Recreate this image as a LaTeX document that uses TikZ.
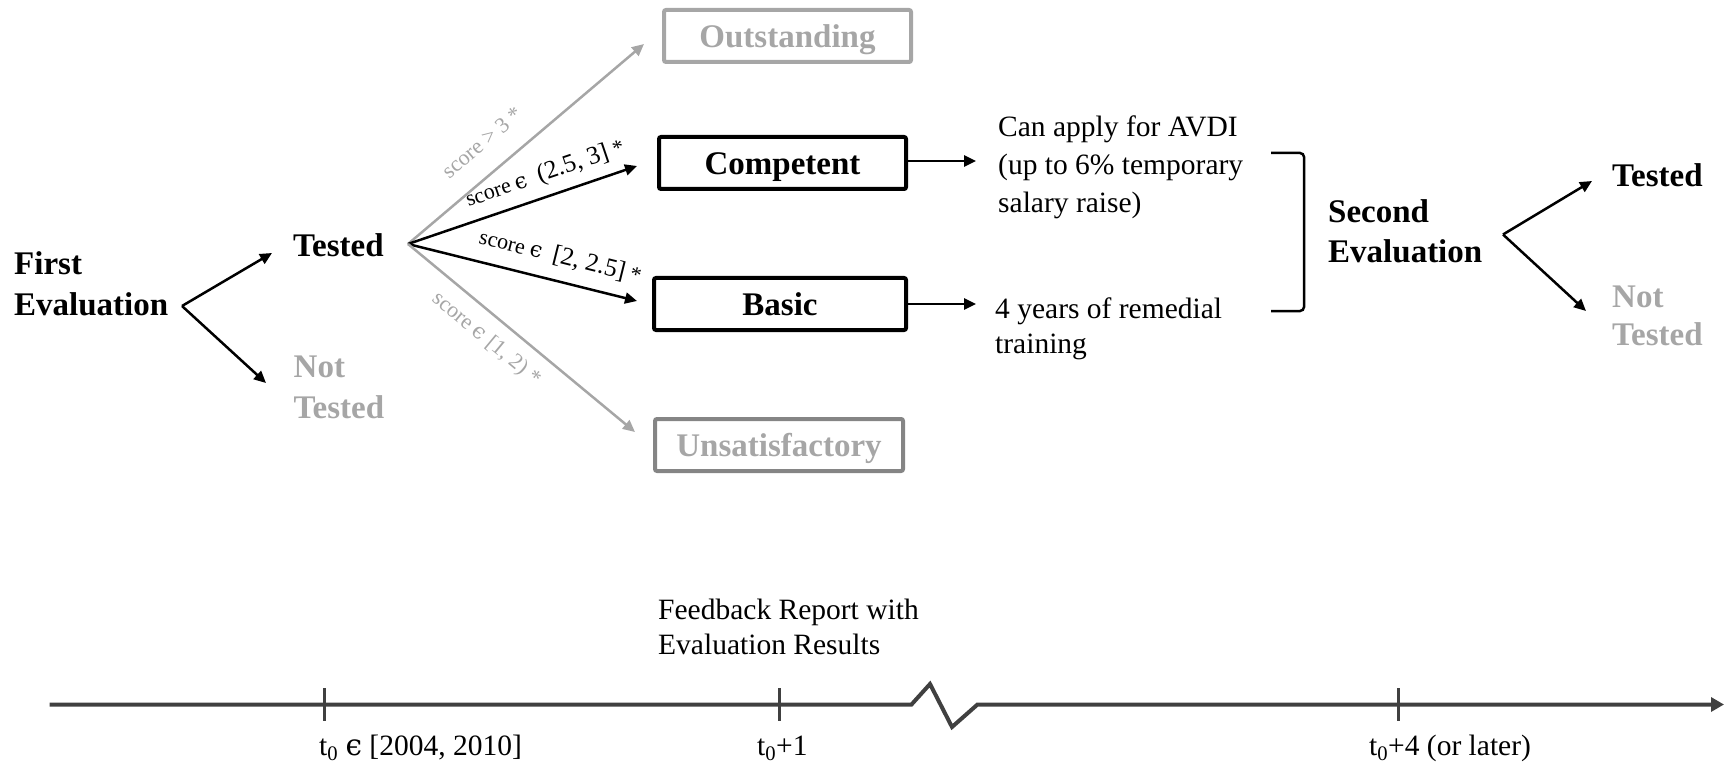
\documentclass[tikz,border=0pt]{standalone}
\usepackage{fontspec}
\setmainfont{Liberation Serif}
\newfontfamily\dvs{DejaVu Serif}
\usetikzlibrary{arrows.meta}
\definecolor{gtxt}{HTML}{A6A6A6}
\definecolor{gline}{HTML}{A6A6A6}
\definecolor{gbox}{HTML}{858585}
\definecolor{tline}{HTML}{404040}
\newcommand{\lunate}{{\dvs ϵ}}
\newcommand{\bigpart}[1]{{\fontsize{25.5}{26}\selectfont #1}}
\begin{document}
\begin{tikzpicture}[x=1pt,y=-1pt,
  boldtxt/.style={font=\fontsize{33}{40}\selectfont\bfseries, inner sep=0pt, align=left},
  regtxt/.style={font=\fontsize{29.5}{38}\selectfont, inner sep=0pt, align=left},
  lab/.style={font=\fontsize{22}{24}\selectfont, inner sep=0pt},
  arr/.style={line width=2.5pt, -{Triangle[length=12pt,width=11pt]}},
  garr/.style={arr, draw=gline},
  box/.style={draw, line width=4pt, rounded corners=2pt, minimum height=52pt, inner sep=0pt, text height=22.5pt, text depth=0pt, font=\fontsize{33}{38}\selectfont\bfseries},
  tl/.style={draw=tline, line width=4pt},
  tick/.style={draw=tline, line width=3pt},
]
\useasboundingbox (0,0) rectangle (1726,767);

% first evaluation
\node[boldtxt, anchor=north west] (fe) at (14,246.8) {\strut First\\\strut Evaluation};
\coordinate (fehub) at (182,306);
\node[boldtxt, anchor=base west] (tested) at (293,257) {Tested};
\node[boldtxt, anchor=north west, text=gtxt, font=\fontsize{33}{41}\selectfont\bfseries] (nottested) at (293.5,348.3) {\strut Not\\\strut Tested};
\coordinate (t1tip) at (272,253);
\coordinate (nt1tip) at (266,383);
\draw[arr] (fehub) -- (t1tip);
\draw[arr] (fehub) -- (nt1tip);

% boxes
\node[box, draw=gline, text=gtxt, minimum width=247pt] (out) at (787.5,36) {Outstanding};
\node[box, minimum width=247pt] (comp) at (782.5,163) {Competent};
\node[box, minimum width=252pt] (basic) at (780,304) {Basic};
\node[box, draw=gbox, text=gtxt, minimum width=248pt] (unsat) at (779,445) {Unsatisfactory};

\coordinate (hub) at (408,244);
\coordinate (outtip) at (644,44);
\coordinate (comptip) at (637,166);
\coordinate (basictip) at (637,301);
\coordinate (unsattip) at (635,432);
\draw[garr] (hub) -- node[lab, text=gtxt, sloped, pos=0.394, above=21pt] {score > 3 *} (outtip);
\draw[arr] (hub) -- node[lab, sloped, pos=0.63, above=9pt] {score \lunate\enspace\bigpart{(2.5, 3]} *} (comptip);
\draw[arr] (hub) -- node[lab, sloped, pos=0.64, above=12.5pt] {score \lunate\enspace\bigpart{[2, 2.5]} *} (basictip);
\draw[garr] (hub) -- node[lab, text=gtxt, sloped, pos=0.41, below=12.5pt] {score \lunate\ [1, 2) *} (unsattip);

% outcomes
\node[regtxt, anchor=north west] (avdi) at (998,109.4) {\strut Can apply for AVDI\\\strut (up to 6\% temporary\\\strut salary raise)};
\node[regtxt, anchor=north west, font=\fontsize{29.5}{35}\selectfont] (remed) at (995,293.5) {\strut 4 years of remedial\\\strut training};
\coordinate (avditip) at (976,161);
\coordinate (remedtip) at (976,304);
\draw[arr] ([yshift=2pt]comp.east) -- (avditip);
\draw[arr] (basic.east) -- (remedtip);

% bracket
\coordinate (brtop) at (1271,153);
\coordinate (brbot) at (1271,311);
\draw[line width=2.5pt, rounded corners=4pt] (brtop) -- (1304,153) -- (1304,311) -- (brbot);

% second evaluation
\node[boldtxt, anchor=north west] (se) at (1328,194) {\strut Second\\\strut Evaluation};
\coordinate (sehub) at (1503,234.5);
\node[boldtxt, anchor=base west] (tested2) at (1612,187) {Tested};
\node[boldtxt, anchor=north west, text=gtxt, font=\fontsize{33}{38}\selectfont\bfseries] (nottested2) at (1612,280.4) {\strut Not\\\strut Tested};
\coordinate (t2tip) at (1592,181);
\coordinate (nt2tip) at (1586,311);
\draw[arr] (sehub) -- (t2tip);
\draw[arr] (sehub) -- (nt2tip);

% timeline
\coordinate (tls) at (49.5,704.5);
\coordinate (z1) at (911.5,704.5);
\coordinate (z2) at (930,684);
\coordinate (z3) at (952,727);
\coordinate (z4) at (977.5,704.5);
\coordinate (tle) at (1724,704.5);
\draw[tl, line join=miter, -{Triangle[length=13pt,width=14pt]}] (tls) -- (z1) -- (z2) -- (z3) -- (z4) -- (tle);
\coordinate (k1a) at (324.7,688); \coordinate (k1b) at (324.7,721);
\coordinate (k2a) at (779.4,688); \coordinate (k2b) at (779.4,721);
\coordinate (k3a) at (1398,688); \coordinate (k3b) at (1398,721);
\draw[tick] (k1a) -- (k1b);
\draw[tick] (k2a) -- (k2b);
\draw[tick] (k3a) -- (k3b);
\node[regtxt, anchor=base west] (l1) at (319,755) {t\textsubscript{0} \lunate\ [2004, 2010]};
\node[regtxt, anchor=base west] (l2) at (757,755) {t\textsubscript{0}+1};
\node[regtxt, anchor=base west] (l3) at (1369,755) {t\textsubscript{0}+4 (or later)};
\node[regtxt, anchor=north west, font=\fontsize{29.5}{35}\selectfont] (fb) at (658,594.5) {\strut Feedback Report with\\\strut Evaluation Results};
\end{tikzpicture}
\end{document}
